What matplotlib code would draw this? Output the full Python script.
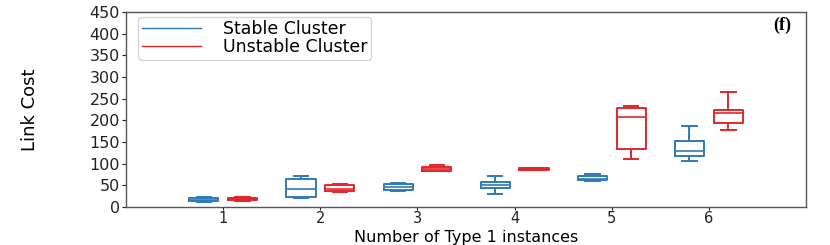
import matplotlib
matplotlib.use("Agg")
import matplotlib.pyplot as plt
from matplotlib.lines import Line2D

# Data (box stats per group)
instances = [1, 2, 3, 4, 5, 6]

stable_lo = [12, 20, 38, 29, 61, 107]
stable_q1 = [14, 22, 40, 43, 62, 118]
stable_med = [17, 42, 46, 51, 64, 130]
stable_q3 = [20, 65, 52, 58, 71, 152]
stable_hi = [22, 72, 56, 72, 76, 188]

unstable_lo = [15, 34, 82, 85, 111, 178]
unstable_q1 = [16, 36, 82, 85, 135, 195]
unstable_med = [19, 42, 87, 87, 208, 216]
unstable_q3 = [21, 50, 92, 89, 228, 223]
unstable_hi = [22, 52, 96, 89, 233, 266]

blue = '#2f7ab8'
red = '#e3262b'


def make_stats(lo, q1, med, q3, hi):
    return [dict(whislo=a, q1=b, med=c, q3=d, whishi=e, fliers=[])
            for a, b, c, d, e in zip(lo, q1, med, q3, hi)]


def style(color):
    return dict(boxprops=dict(color=color, linewidth=1.4),
                whiskerprops=dict(color=color, linewidth=1.4),
                capprops=dict(color=color, linewidth=1.4),
                medianprops=dict(color=color, linewidth=1.2))


fig = plt.figure(figsize=(8.3, 2.45), dpi=100)
ax = fig.add_axes([0.152, 0.155, 0.819, 0.796])

pos_s = [p - 0.2 for p in instances]
pos_u = [p + 0.2 for p in instances]
ax.bxp(make_stats(stable_lo, stable_q1, stable_med, stable_q3, stable_hi),
       positions=pos_s, widths=0.3, showfliers=False, manage_ticks=False,
       **style(blue))
ax.bxp(make_stats(unstable_lo, unstable_q1, unstable_med, unstable_q3, unstable_hi),
       positions=pos_u, widths=0.3, showfliers=False, manage_ticks=False,
       **style(red))

ax.set_xlim(0, 7)
ax.set_ylim(0, 450)
ax.set_xticks(instances)
ax.set_xticklabels([str(i) for i in instances])
ax.set_yticks(range(0, 451, 50))
ax.tick_params(labelsize=11.5, length=3, pad=1.5, colors='#222222')
ax.tick_params(axis='x', labelsize=10.5, length=2.5, pad=0.5)
for s in ax.spines.values():
    s.set_color('#555555')
    s.set_linewidth(1.0)

# x label sits on the bottom edge of the figure, just under the tick labels
ax.set_xlabel('Number of Type 1 instances', fontsize=11.5, va='bottom')
ax.xaxis.set_label_coords(0.5, -0.196)
ax.set_ylabel('Link Cost', fontsize=13)
ax.yaxis.set_label_coords(-0.128, 0.5)

handles = [Line2D([], [], color=blue, lw=1), Line2D([], [], color=red, lw=1)]
ax.legend(handles, ['Stable Cluster', 'Unstable Cluster'], loc='upper left',
          fontsize=12.5, handlelength=3.4, handletextpad=1.3,
          borderpad=0.2, labelspacing=0.0, borderaxespad=0,
          bbox_to_anchor=(0.018, 0.975))

ax.text(0.978, 0.933, '(f)', transform=ax.transAxes, ha='right', va='center',
        fontsize=13, fontweight='bold', family='Liberation Serif')

fig.savefig('out.png', dpi=100)
